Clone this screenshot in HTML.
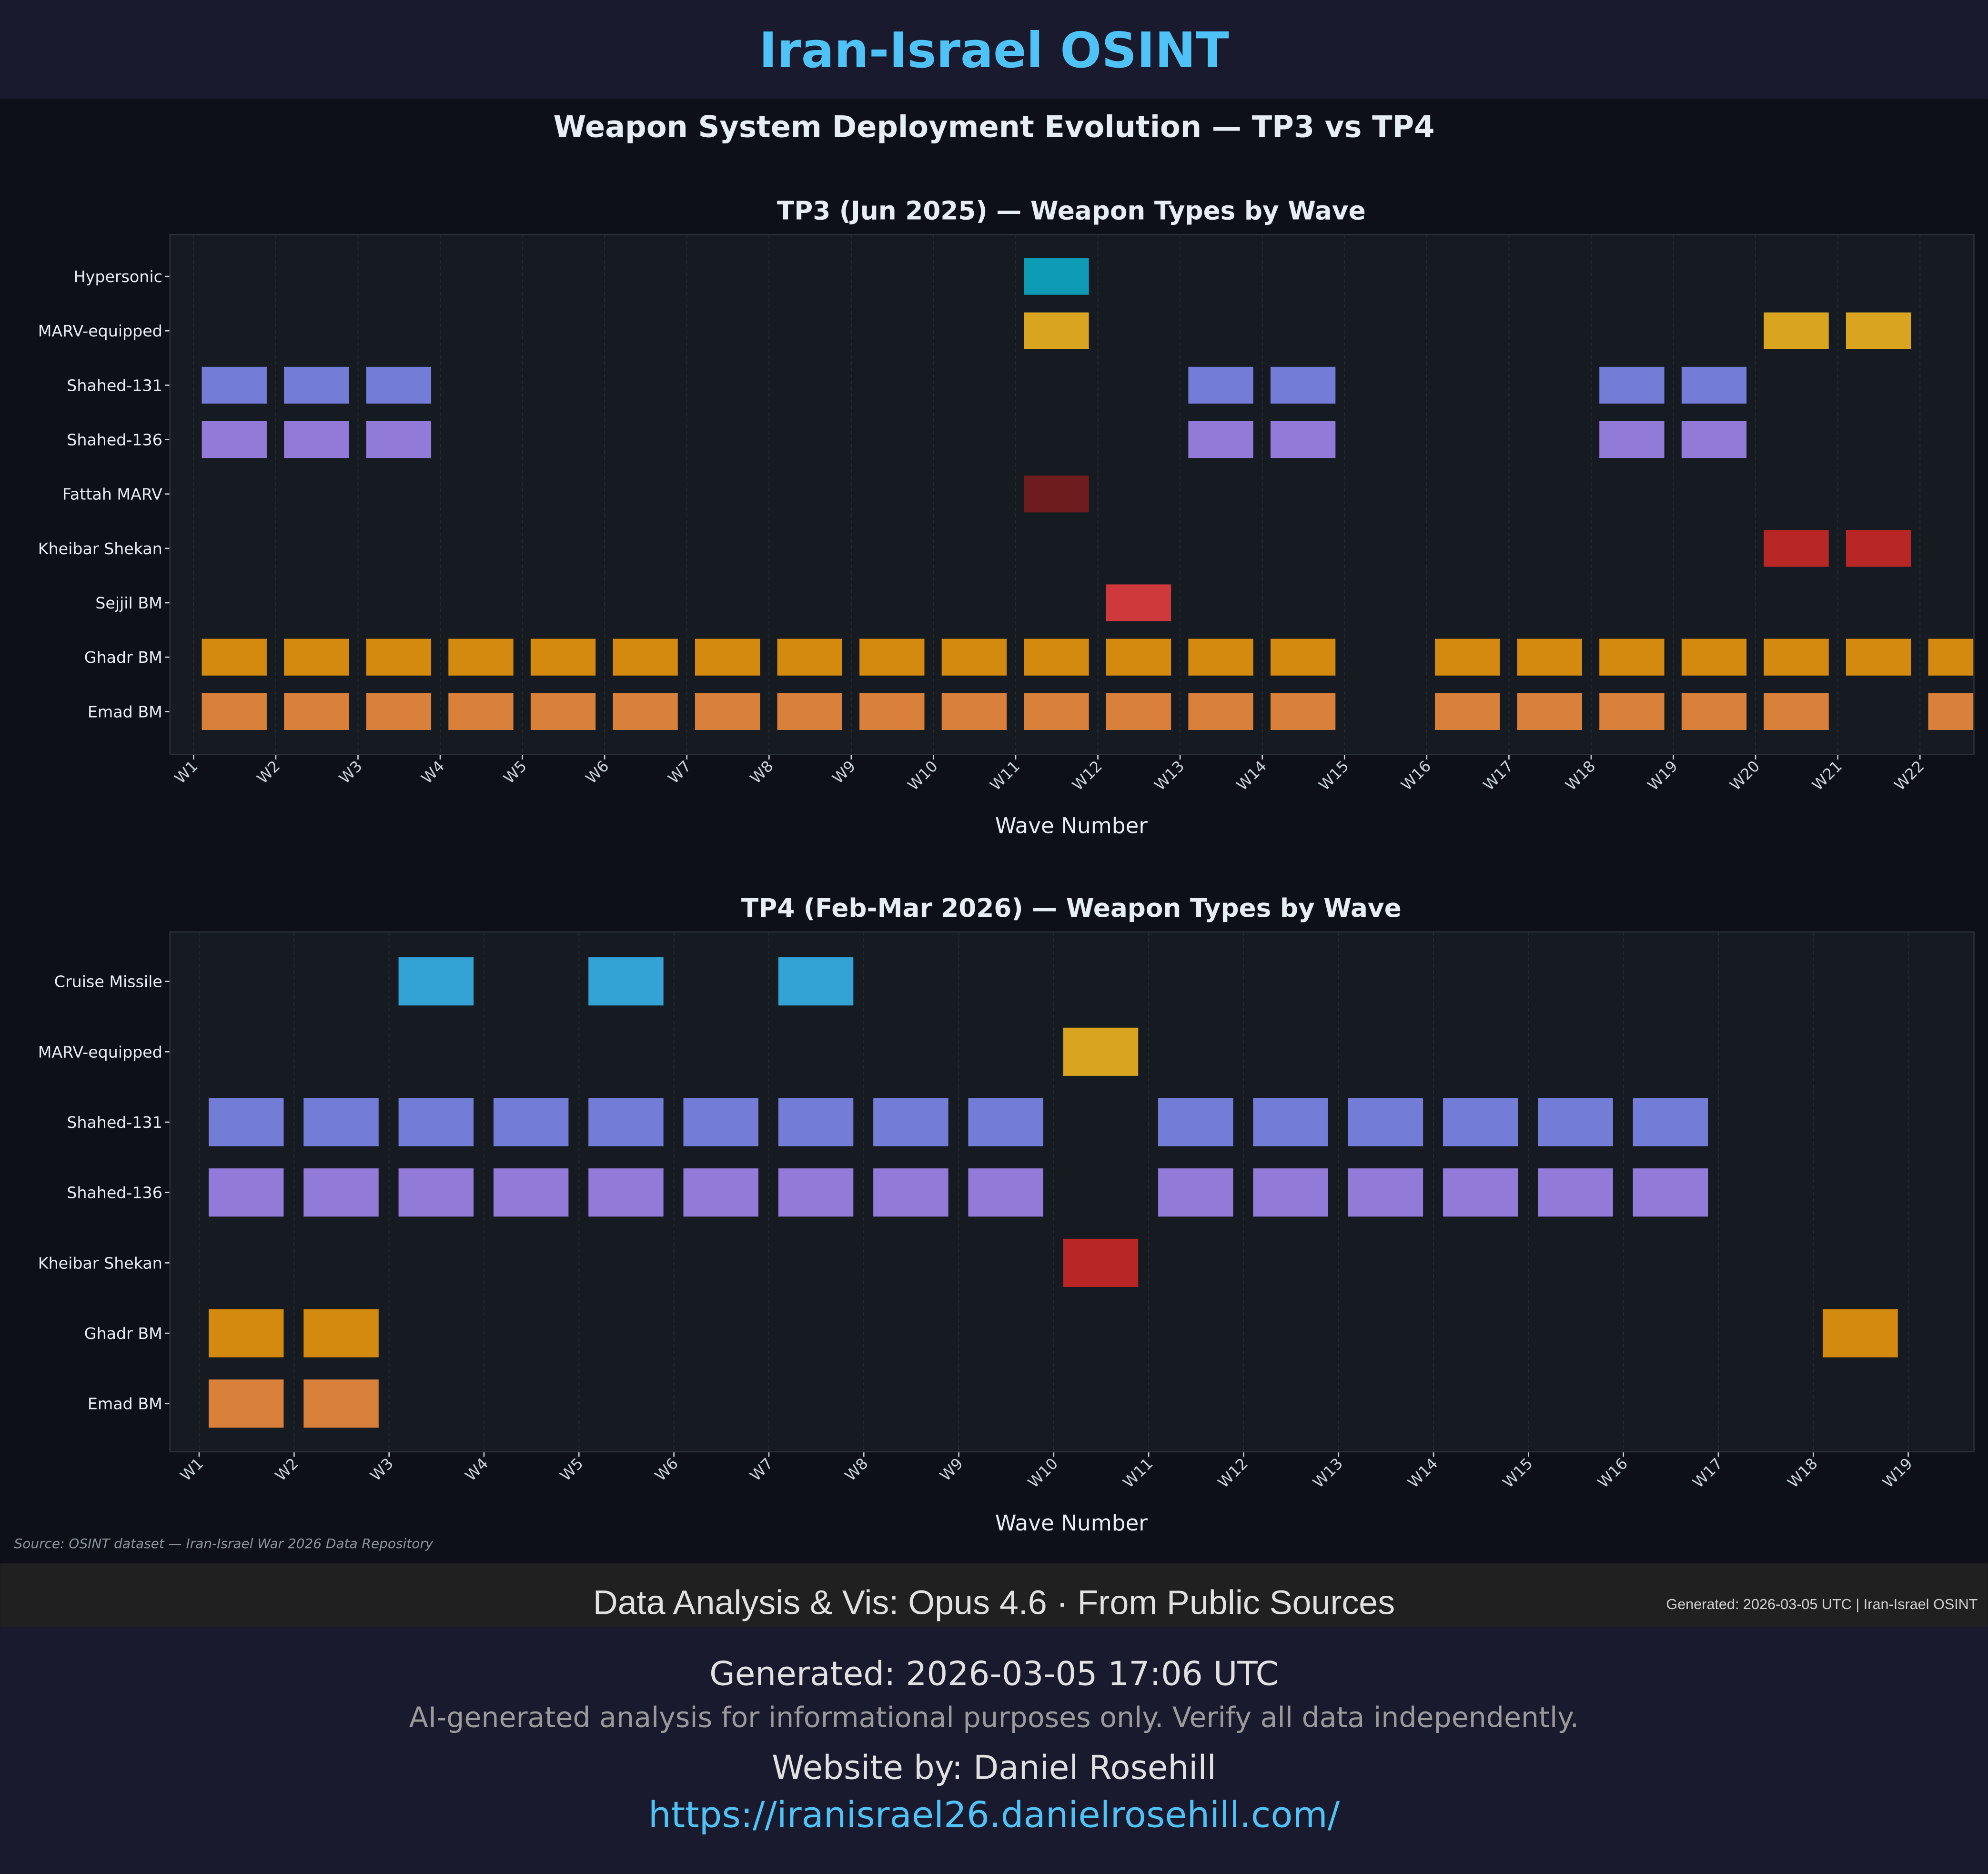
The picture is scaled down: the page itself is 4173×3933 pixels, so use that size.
<!DOCTYPE html>
<html><head><meta charset="utf-8">
<style>
html,body{margin:0;padding:0;background:#0d1117;}
svg{display:block;}
text{font-family:"DejaVu Sans","Liberation Sans",sans-serif;}
</style></head>
<body>
<svg id="s" width="4173" height="3933" viewBox="0 0 1568 1478" xmlns="http://www.w3.org/2000/svg">
<rect x="0" y="0" width="1568" height="1478" fill="#0d1117"/>
<rect x="0" y="0" width="1568" height="78" fill="#1a1a2e"/>
<text x="784" y="53" text-anchor="middle" font-size="38.5" font-weight="bold" fill="#4fc3f7">Iran-Israel OSINT</text>
<text x="784" y="108" text-anchor="middle" font-size="23.4" font-weight="bold" fill="#e6edf3">Weapon System Deployment Evolution — TP3 vs TP4</text>
<g id="g"></g>
<text x="11" y="1221" font-size="10.5" font-style="italic" fill="#8b949e">Source: OSINT dataset — Iran-Israel War 2026 Data Repository</text>
<rect x="0" y="1233" width="1568" height="50" fill="#202020"/>
<text x="784" y="1273" text-anchor="middle" font-size="27" fill="#e0e0e0" style="font-family:'Liberation Sans',sans-serif">Data Analysis &amp; Vis: Opus 4.6 · From Public Sources</text>
<text x="1560" y="1269" text-anchor="end" font-size="11.5" fill="#d0d0d0" style="font-family:'Liberation Sans',sans-serif">Generated: 2026-03-05 UTC | Iran-Israel OSINT</text>
<rect x="0" y="1283" width="1568" height="195" fill="#1a1a2e"/>
<text x="784" y="1329" text-anchor="middle" font-size="26" fill="#e0e0e0">Generated: 2026-03-05 17:06 UTC</text>
<text x="784" y="1362" text-anchor="middle" font-size="22" fill="#9a9a9a">AI-generated analysis for informational purposes only. Verify all data independently.</text>
<text x="784" y="1403" text-anchor="middle" font-size="26" fill="#e0e0e0">Website by: Daniel Rosehill</text>
<text x="784" y="1441" text-anchor="middle" font-size="28.3" fill="#4fc3f7">https://iranisrael26.danielrosehill.com/</text>
</svg>
<script>
const C={hyp:"#0e9bb5",marv:"#d9a520",s131:"#737dd7",s136:"#927bd8",fat:"#6e1c1e",khe:"#b82626",sej:"#d0393b",gha:"#d4890f",ema:"#d9803a",cru:"#33a3d6"};
function rng(a,b){let r=[];for(let i=a;i<=b;i++)r.push(i);return r;}
function plot(o){
 let s='';
 const L=134,R=1557;
 s+=`<clipPath id="c${o.id}"><rect x="${L}" y="${o.top}" width="${R-L}" height="${o.bot-o.top}"/></clipPath>`;
 s+=`<rect x="${L}" y="${o.top}" width="${R-L}" height="${o.bot-o.top}" fill="#161b22"/>`;
 s+=`<text x="845" y="${o.top-12}" text-anchor="middle" font-size="20" font-weight="bold" fill="#e6edf3">${o.title}</text>`;
 for(let i=0;i<o.n;i++){
  const x=o.x0+i*o.dx;
  s+=`<line x1="${x}" y1="${o.top}" x2="${x}" y2="${o.bot}" stroke="#222831" stroke-width="0.8" stroke-dasharray="3,2"/>`;
  s+=`<line x1="${x}" y1="${o.bot}" x2="${x}" y2="${o.bot+4}" stroke="#c9d1d9" stroke-width="1"/>`;
  s+=`<text transform="translate(${x+4},${o.bot+10}) rotate(-45)" text-anchor="end" font-size="12" fill="#c9d1d9">W${i+1}</text>`;
 }
 s+=`<g clip-path="url(#c${o.id})">`;
 o.rows.forEach((r,k)=>{
  const y=o.y0+k*o.dy;
  r[2].forEach(w=>{const x=o.x0+(w-1)*o.dx+0.1*o.dx;
   s+=`<rect x="${x}" y="${y-o.bh/2}" width="${0.79*o.dx}" height="${o.bh}" fill="${r[1]}"/>`;});
 });
 s+='</g>';
 o.rows.forEach((r,k)=>{const y=o.y0+k*o.dy;
  s+=`<text x="128" y="${y+4.5}" text-anchor="end" font-size="12.5" fill="#e6edf3">${r[0]}</text>`;
  s+=`<line x1="130" y1="${y}" x2="${L}" y2="${y}" stroke="#c9d1d9" stroke-width="1"/>`;});
 s+=`<rect x="${L}" y="${o.top}" width="${R-L}" height="${o.bot-o.top}" fill="none" stroke="#2a3038" stroke-width="1"/>`;
 s+=`<text x="845" y="${o.bot+62}" text-anchor="middle" font-size="17" fill="#e6edf3">Wave Number</text>`;
 return s;
}
let h='';
h+=plot({id:1,top:185,bot:595,title:"TP3 (Jun 2025) — Weapon Types by Wave",n:22,x0:152.6,dx:64.85,y0:218,dy:42.9,bh:29,
rows:[["Hypersonic",C.hyp,[11]],["MARV-equipped",C.marv,[11,20,21]],["Shahed-131",C.s131,[1,2,3,13,14,18,19]],["Shahed-136",C.s136,[1,2,3,13,14,18,19]],["Fattah MARV",C.fat,[11]],["Kheibar Shekan",C.khe,[20,21]],["Sejjil BM",C.sej,[12]],["Ghadr BM",C.gha,rng(1,14).concat(rng(16,22))],["Emad BM",C.ema,rng(1,14).concat(rng(16,20),[22])]]});
h+=plot({id:2,top:735,bot:1145,title:"TP4 (Feb-Mar 2026) — Weapon Types by Wave",n:19,x0:157,dx:74.9,y0:774,dy:55.5,bh:38,
rows:[["Cruise Missile",C.cru,[3,5,7]],["MARV-equipped",C.marv,[10]],["Shahed-131",C.s131,rng(1,9).concat(rng(11,16))],["Shahed-136",C.s136,rng(1,9).concat(rng(11,16))],["Kheibar Shekan",C.khe,[10]],["Ghadr BM",C.gha,[1,2,18]],["Emad BM",C.ema,[1,2]]]});
document.getElementById('g').innerHTML=h;
</script>
</body></html>
